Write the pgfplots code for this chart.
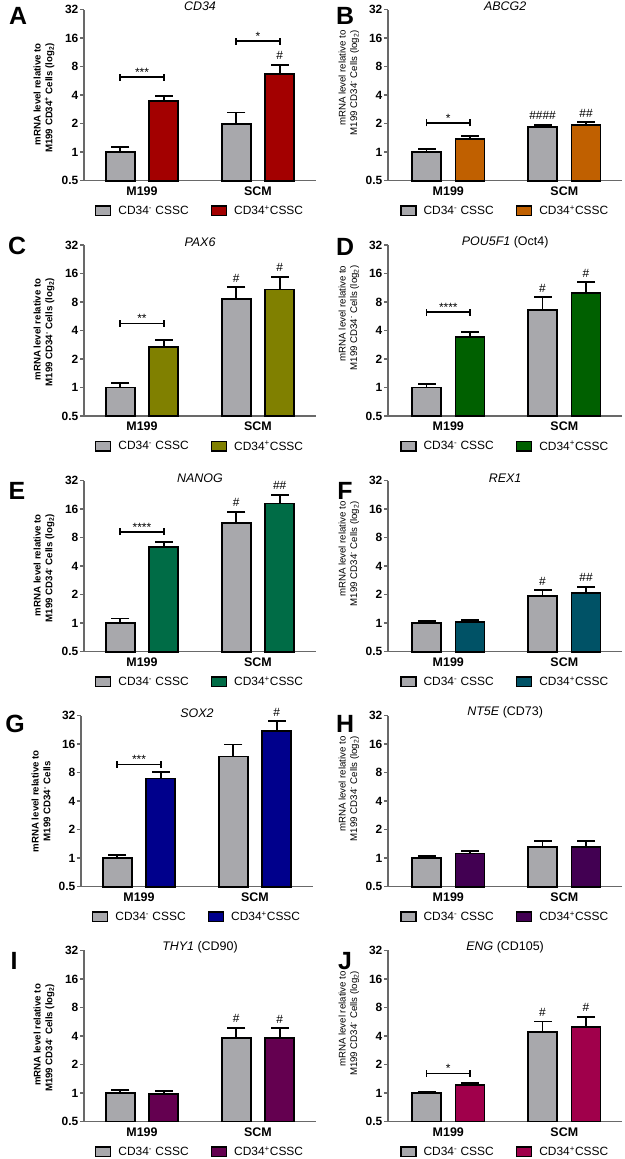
\documentclass[border=0pt]{standalone}
\usepackage{pgfplots}
\pgfplotsset{compat=1.18}
\usepackage{fontspec}
\setmainfont{Liberation Sans}
\definecolor{bargray}{RGB}{168,168,172}
\definecolor{axisgray}{RGB}{105,105,105}
\definecolor{cA}{RGB}{163,0,0}
\definecolor{cB}{RGB}{192,96,0}
\definecolor{cC}{RGB}{128,128,0}
\definecolor{cD}{RGB}{0,96,0}
\definecolor{cE}{RGB}{0,108,70}
\definecolor{cF}{RGB}{0,82,102}
\definecolor{cG}{RGB}{0,0,140}
\definecolor{cH}{RGB}{66,0,82}
\definecolor{cI}{RGB}{100,0,80}
\definecolor{cJ}{RGB}{160,0,75}
\pgfplotsset{
  every axis/.append style={
    scale only axis, height=171bp,
    ymode=log, log basis y=2, ymin=0.5, ymax=32,
    log origin=infty,
    xmax=1.5,
    axis lines*=left,
    axis line style={draw=axisgray, line width=1.5bp},
    ytick={0.5,1,2,4,8,16,32}, yticklabels={0.5,1,2,4,8,16,32},
    xtick={0,1}, xticklabels={M199,SCM},
    ytick style={draw=axisgray, line width=1.5bp},
    xtick style={draw=none},
    tick align=outside, major tick length=4bp,
    yticklabel style={font=\bfseries\fontsize{12}{12}\selectfont, inner sep=1.5bp},
    xticklabel style={font=\bfseries\fontsize{12.5}{12.5}\selectfont, inner sep=2bp},
    title style={at={(0.5,1)}, anchor=center, yshift=-3bp, font=\fontsize{12.5}{12.5}\selectfont},
    legend style={at={(0.5,-0.178)}, anchor=center, legend columns=2, draw=none, fill=none,
      font=\fontsize{12}{12}\selectfont, inner sep=0pt,
      /tikz/every odd column/.append style={column sep=5bp},
      /tikz/every even column/.append style={column sep=20bp}},
    clip=false,
  },
  lpanel/.style={width=232bp, xmin=-0.5,
    ylabel style={at={(axis description cs:-0.172,0.825)}, rotate=0, anchor=east, align=right,
      font=\bfseries\fontsize{9.7}{11.7}\selectfont}},
  rpanel/.style={width=234.3bp, xmin=-0.52,
    ylabel style={at={(axis description cs:-0.167,0.9)}, rotate=0, anchor=east, align=right,
      font=\fontsize{9.7}{11.7}\selectfont}},
  barbase/.style={ybar, bar width=0.25, bar shift=0pt, fill=#1, draw=black, line width=1.8bp,
    legend image code/.code={\path[draw=black, fill=#1, line width=1.5bp] (0bp,-4.5bp) rectangle (15bp,5bp);}},
  errstem/.style={black, line width=1.8bp, mark=-, mark size=9bp, mark options={solid, line width=1.8bp}, forget plot},
}
\newcommand\eb[3]{\addplot[errstem] coordinates {(#1,#2) (#1,#3)};}
\newcommand\sigbar[3]{%
  \draw[line width=1.8bp] (axis cs:#1-0.1875,#2) -- (axis cs:#1+0.1875,#2);
  \draw[line width=1.8bp] ([yshift=-3.5bp]axis cs:#1-0.1875,#2) -- ([yshift=3.5bp]axis cs:#1-0.1875,#2);
  \draw[line width=1.8bp] ([yshift=-3.5bp]axis cs:#1+0.1875,#2) -- ([yshift=3.5bp]axis cs:#1+0.1875,#2);
  \node[anchor=base, inner sep=0pt, font=\fontsize{12}{12}\selectfont] at ([yshift=0.5bp]axis cs:#1,#2) {#3};}
\newcommand\hashmark[3]{%
  \node[anchor=base, inner sep=0pt, font=\fontsize{12}{12}\selectfont] at ([yshift=5bp]axis cs:#1,#2) {#3};}
\begin{document}
\begin{tikzpicture}
\path[use as bounding box, fill=white] (0,0) rectangle (625bp,1159bp);
% ---------------- A
\begin{axis}[lpanel, at={(84bp,978.3bp)}, anchor=south west, title={\textit{CD34}},
  ylabel={mRNA level relative to\\M199 CD34\textsuperscript{+} Cells (log\textsubscript{2})}]
\addplot[barbase=bargray] coordinates {(-0.1875,1.0) (0.8125,1.99)};
\addplot[barbase=cA] coordinates {(0.1875,3.49) (1.1875,6.69)};
\legend{CD34\textsuperscript{-} CSSC, CD34\textsuperscript{+}CSSC}
\eb{-0.1875}{1.0}{1.13}\eb{0.8125}{1.99}{2.63}\eb{0.1875}{3.49}{3.92}\eb{1.1875}{6.69}{8.34}
\sigbar{0}{6.17}{***}
\sigbar{1}{14.8}{*}
\hashmark{1.1875}{8.34}{\#}
\end{axis}
% ---------------- B
\begin{axis}[rpanel, at={(388bp,978.3bp)}, anchor=south west, title={\textit{ABCG2}},
  ylabel={mRNA level relative to\\M199 CD34\textsuperscript{-} Cells (log\textsubscript{2})}]
\addplot[barbase=bargray] coordinates {(-0.1875,1.0) (0.8125,1.84)};
\addplot[barbase=cB] coordinates {(0.1875,1.38) (1.1875,1.93)};
\legend{CD34\textsuperscript{-} CSSC, CD34\textsuperscript{+}CSSC}
\eb{-0.1875}{1.0}{1.08}\eb{0.8125}{1.84}{1.95}\eb{0.1875}{1.38}{1.48}\eb{1.1875}{1.93}{2.08}
\sigbar{0}{2.04}{*}
\hashmark{0.8125}{1.95}{\#\#\#\#}
\hashmark{1.1875}{2.08}{\#\#}
\end{axis}
% ---------------- C
\begin{axis}[lpanel, at={(84bp,743bp)}, anchor=south west, title={\textit{PAX6}},
  ylabel={mRNA level relative to\\M199 CD34\textsuperscript{-} Cells (log\textsubscript{2})}]
\addplot[barbase=bargray] coordinates {(-0.1875,1.0) (0.8125,8.65)};
\addplot[barbase=cC] coordinates {(0.1875,2.66) (1.1875,10.85)};
\legend{CD34\textsuperscript{-} CSSC, CD34\textsuperscript{+}CSSC}
\eb{-0.1875}{1.0}{1.11}\eb{0.8125}{8.65}{11.5}\eb{0.1875}{2.66}{3.15}\eb{1.1875}{10.85}{14.8}
\sigbar{0}{4.75}{**}
\hashmark{0.8125}{11.5}{\#}
\hashmark{1.1875}{14.8}{\#}
\end{axis}
% ---------------- D
\begin{axis}[rpanel, at={(388bp,743bp)}, anchor=south west, title={\textit{POU5F1} (Oct4)},
  ylabel={mRNA level relative to\\M199 CD34\textsuperscript{-} Cells (log\textsubscript{2})}]
\addplot[barbase=bargray] coordinates {(-0.1875,1.0) (0.8125,6.59)};
\addplot[barbase=cD] coordinates {(0.1875,3.44) (1.1875,10.04)};
\legend{CD34\textsuperscript{-} CSSC, CD34\textsuperscript{+}CSSC}
\eb{-0.1875}{1.0}{1.08}\eb{0.8125}{6.59}{9.03}\eb{0.1875}{3.44}{3.83}\eb{1.1875}{10.04}{13.0}
\sigbar{0}{6.22}{****}
\hashmark{0.8125}{9.03}{\#}
\hashmark{1.1875}{13.0}{\#}
\end{axis}
% ---------------- E
\begin{axis}[lpanel, at={(84bp,507.3bp)}, anchor=south west, title={\textit{NANOG}},
  ylabel={mRNA level relative to\\M199 CD34\textsuperscript{-} Cells (log\textsubscript{2})}]
\addplot[barbase=bargray] coordinates {(-0.1875,1.0) (0.8125,11.5)};
\addplot[barbase=cE] coordinates {(0.1875,6.43) (1.1875,18.4)};
\legend{CD34\textsuperscript{-} CSSC, CD34\textsuperscript{+}CSSC}
\eb{-0.1875}{1.0}{1.12}\eb{0.8125}{11.5}{15.06}\eb{0.1875}{6.43}{7.2}\eb{1.1875}{18.4}{22.8}
\sigbar{0}{9.26}{****}
\hashmark{0.8125}{15.06}{\#}
\hashmark{1.1875}{22.8}{\#\#}
\end{axis}
% ---------------- F
\begin{axis}[rpanel, at={(388bp,507.3bp)}, anchor=south west, title={\textit{REX1}},
  ylabel={mRNA level relative to\\M199 CD34\textsuperscript{-} Cells (log\textsubscript{2})}]
\addplot[barbase=bargray] coordinates {(-0.1875,1.0) (0.8125,1.94)};
\addplot[barbase=cF] coordinates {(0.1875,1.03) (1.1875,2.07)};
\legend{CD34\textsuperscript{-} CSSC, CD34\textsuperscript{+}CSSC}
\eb{-0.1875}{1.0}{1.06}\eb{0.8125}{1.94}{2.24}\eb{0.1875}{1.03}{1.08}\eb{1.1875}{2.07}{2.43}
\hashmark{0.8125}{2.24}{\#}
\hashmark{1.1875}{2.43}{\#\#}
\end{axis}
% ---------------- G
\begin{axis}[lpanel, at={(81bp,272.3bp)}, anchor=south west, title={\textit{SOX2}},
  ylabel style={at={(axis description cs:-0.172,0.5)}, anchor=center, align=center},
  ylabel={mRNA level relative to\\M199 CD34\textsuperscript{-} Cells}]
\addplot[barbase=bargray] coordinates {(-0.1875,1.0) (0.8125,11.86)};
\addplot[barbase=cG] coordinates {(0.1875,6.95) (1.1875,21.9)};
\legend{CD34\textsuperscript{-} CSSC, CD34\textsuperscript{+}CSSC}
\eb{-0.1875}{1.0}{1.09}\eb{0.8125}{11.86}{15.86}\eb{0.1875}{6.95}{8.1}\eb{1.1875}{21.9}{27.9}
\sigbar{0}{9.77}{***}
\hashmark{1.1875}{27.9}{\#}
\end{axis}
% ---------------- H
\begin{axis}[rpanel, at={(388bp,272.3bp)}, anchor=south west, title={\textit{NT5E} (CD73)},
  ylabel={mRNA level relative to\\M199 CD34\textsuperscript{-} Cells (log\textsubscript{2})}]
\addplot[barbase=bargray] coordinates {(-0.1875,1.0) (0.8125,1.32)};
\addplot[barbase=cH] coordinates {(0.1875,1.12) (1.1875,1.32)};
\legend{CD34\textsuperscript{-} CSSC, CD34\textsuperscript{+}CSSC}
\eb{-0.1875}{1.0}{1.06}\eb{0.8125}{1.32}{1.52}\eb{0.1875}{1.12}{1.18}\eb{1.1875}{1.32}{1.52}
\end{axis}
% ---------------- I
\begin{axis}[lpanel, at={(84bp,37.5bp)}, anchor=south west, title={\textit{THY1} (CD90)},
  ylabel={mRNA level relative to\\M199 CD34\textsuperscript{-} Cells (log\textsubscript{2})}]
\addplot[barbase=bargray] coordinates {(-0.1875,1.0) (0.8125,3.78)};
\addplot[barbase=cI] coordinates {(0.1875,0.98) (1.1875,3.78)};
\legend{CD34\textsuperscript{-} CSSC, CD34\textsuperscript{+}CSSC}
\eb{-0.1875}{1.0}{1.07}\eb{0.8125}{3.78}{4.86}\eb{0.1875}{0.98}{1.04}\eb{1.1875}{3.78}{4.83}
\hashmark{0.8125}{4.86}{\#}
\hashmark{1.1875}{4.83}{\#}
\end{axis}
% ---------------- J
\begin{axis}[rpanel, at={(388bp,37.5bp)}, anchor=south west, title={\textit{ENG} (CD105)},
  ylabel={mRNA level relative to\\M199 CD34\textsuperscript{-} Cells (log\textsubscript{2})}]
\addplot[barbase=bargray] coordinates {(-0.1875,1.0) (0.8125,4.43)};
\addplot[barbase=cJ] coordinates {(0.1875,1.22) (1.1875,4.99)};
\legend{CD34\textsuperscript{-} CSSC, CD34\textsuperscript{+}CSSC}
\eb{-0.1875}{1.0}{1.03}\eb{0.8125}{4.43}{5.68}\eb{0.1875}{1.22}{1.28}\eb{1.1875}{4.99}{6.41}
\sigbar{0}{1.61}{*}
\hashmark{0.8125}{5.68}{\#}
\hashmark{1.1875}{6.41}{\#}
\end{axis}
% panel letters
\begin{scope}[every node/.style={font=\bfseries\fontsize{25}{25}\selectfont, inner sep=0pt, anchor=north}]
\node at (18bp,1152bp) {A};
\node at (345bp,1152bp) {B};
\node at (17bp,922bp) {C};
\node at (345bp,921bp) {D};
\node at (17bp,677bp) {E};
\node at (345bp,677bp) {F};
\node at (15bp,444bp) {G};
\node at (345bp,444bp) {H};
\node at (14bp,207bp) {I};
\node at (345bp,207bp) {J};
\end{scope}
\end{tikzpicture}
\end{document}
